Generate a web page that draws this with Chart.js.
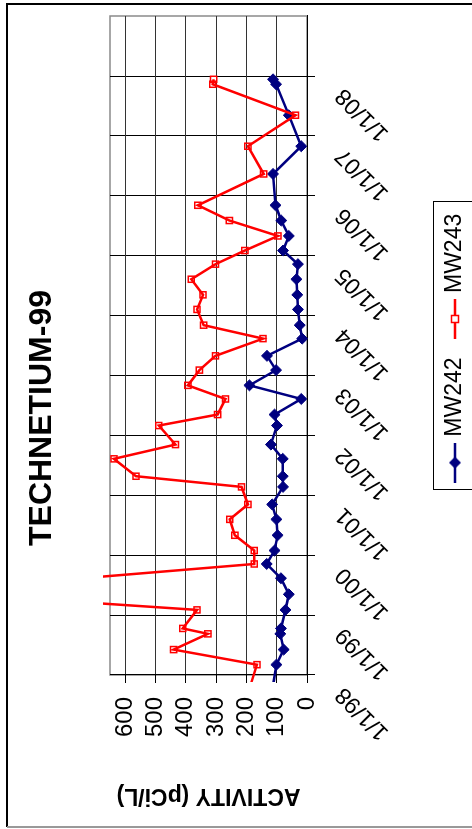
<!DOCTYPE html>
<html>
<head>
<meta charset="utf-8">
<title>TECHNETIUM-99</title>
<script src="https://cdn.jsdelivr.net/npm/chart.js@4/dist/chart.umd.min.js"></script>
<style>
  html, body { margin: 0; padding: 0; background: #fff; overflow: hidden; }
  body { width: 472px; height: 829px; position: relative; }
  /* landscape chart turned a quarter turn counter-clockwise */
  #turn {
    position: absolute; left: 0; top: 0;
    width: 829px; height: 472px;
    transform-origin: 0 0;
    transform: translateY(829px) rotate(-90deg);
  }
  canvas { display: block; }
</style>
</head>
<body>
<div id="turn"><canvas id="chart" width="829" height="472"></canvas></div>
<script>
// Sampling dates (the first one precedes the plotted range)
const sampleDates = [
  '1997-09-01',
  '1998-03-05', '1998-06-05', '1998-09-09', '1998-10-12',
  '1999-02-02', '1999-05-08', '1999-08-14', '1999-11-09',
  '2000-01-30', '2000-05-02', '2000-08-07', '2000-11-06',
  '2001-02-21', '2001-04-27', '2001-08-11', '2001-11-06',
  '2002-03-02', '2002-05-08', '2002-08-11', '2002-11-02',
  '2003-02-03', '2003-05-01', '2003-08-14', '2003-11-04',
  '2004-02-08', '2004-05-07', '2004-08-10', '2004-11-10',
  '2005-02-01', '2005-05-01', '2005-08-03', '2005-11-04',
  '2006-05-14', '2006-10-30',
  '2007-05-07', '2007-11-12', '2007-12-12'
];

// Tc-99 activity, pCi/L
const mw242 = [
  117,
  101, 77, 88, 86,
  71, 60, 86, 133,
  107, 97, 101, 115,
  79, 80, 80, 119,
  99, 107, 19, 190,
  102, 132, 16, 24,
  30, 32, 35, 30,
  79, 60, 85, 104,
  112, 19,
  60, 102, 112
];
const mw243 = [
  197,
  165, 440, 327, 410,
  363, 1130, 740, 174,
  174, 238, 255, 195,
  216, 564, 637, 434,
  489, 295, 269, 393,
  355, 302, 145, 341,
  363, 343, 382, 302,
  205, 96, 256, 360,
  143, 195,
  38, 311, 308
];

// Date axis ticks
const yearTicks = [
  '1998-01-01', '1999-01-01', '2000-01-01', '2001-01-01', '2002-01-01', '2003-01-01',
  '2004-01-01', '2005-01-01', '2006-01-01', '2007-01-01', '2008-01-01'
];
const yearLabels = ['1/1/98', '1/1/99', '1/1/00', '1/1/01', '1/1/02', '1/1/03',
                    '1/1/04', '1/1/05', '1/1/06', '1/1/07', '1/1/08'];
const dateMin = '1998-01-01';
const dateMax = '2009-01-01';

// Activity axis ticks
const activityMin = 0;
const activityMax = 650;
const activityStep = 100;

const FONT = '"Liberation Sans", Arial, Helvetica, sans-serif';
Chart.defaults.font.family = FONT;
Chart.defaults.color = '#000';

const NAVY = '#000080';
const RED = '#ff0000';

function series(values) {
  return sampleDates.map((d, i) => ({ x: Date.parse(d), y: values[i] }));
}

// Small line-and-marker samples used as legend symbols
function legendSymbol(color, marker) {
  const c = document.createElement('canvas');
  c.width = 40; c.height = 16;
  const g = c.getContext('2d');
  g.strokeStyle = color;
  g.lineWidth = 2.5;
  g.beginPath(); g.moveTo(0, 8); g.lineTo(40, 8); g.stroke();
  if (marker === 'diamond') {
    g.fillStyle = color;
    g.beginPath();
    g.moveTo(14, 8); g.lineTo(20, 2); g.lineTo(26, 8); g.lineTo(20, 14);
    g.closePath(); g.fill();
  } else {
    g.lineWidth = 1.5;
    g.fillStyle = '#fff';
    g.fillRect(16.5, 4.5, 7, 7);
    g.strokeRect(16.5, 4.5, 7, 7);
  }
  return c;
}

const framePlugin = {
  id: 'frame',
  beforeDraw(chart) {
    const { ctx, chartArea: a, height } = chart;
    ctx.save();
    // outer chart border
    ctx.lineWidth = 2;
    ctx.strokeStyle = '#000';
    ctx.beginPath();
    ctx.moveTo(2, 7); ctx.lineTo(825, 7); ctx.lineTo(825, height + 5);
    ctx.stroke();
    ctx.strokeStyle = '#999';
    ctx.beginPath();
    ctx.moveTo(2, 7); ctx.lineTo(2, height + 5);
    ctx.stroke();
    // plot area frame
    ctx.lineWidth = 1.5;
    ctx.strokeStyle = '#8a8a8a';
    ctx.strokeRect(a.left, a.top, a.right - a.left, a.bottom - a.top);
    ctx.restore();
  },
  afterDraw(chart) {
    const lg = chart.legend;
    if (!lg || !lg.legendHitBoxes || !lg.legendHitBoxes.length) return;
    const hb = lg.legendHitBoxes;
    const first = hb[0], last = hb[hb.length - 1];
    const cy = first.top + first.height / 2;
    const ctx = chart.ctx;
    ctx.save();
    ctx.lineWidth = 1;
    ctx.strokeStyle = '#000';
    const l = Math.round(first.left - 13) + 0.5;
    const r = Math.round(last.left + last.width + 12) + 0.5;
    const t = Math.round(cy - 22) + 0.5;
    ctx.strokeRect(l, t, r - l, 39);
    ctx.restore();
  }
};

new Chart(document.getElementById('chart'), {
  type: 'line',
  data: {
    datasets: [
      {
        label: 'MW242',
        data: series(mw242),
        order: 1,
        borderColor: NAVY,
        backgroundColor: NAVY,
        borderWidth: 2.5,
        pointStyle: 'rectRot',
        pointRadius: 5.5,
        pointBorderWidth: 1,
        pointBackgroundColor: NAVY,
        pointBorderColor: NAVY,
        tension: 0,
        clip: 7
      },
      {
        label: 'MW243',
        data: series(mw243),
        order: 0,
        borderColor: RED,
        backgroundColor: RED,
        borderWidth: 2.5,
        pointStyle: 'rect',
        pointRadius: 4.3,
        pointBorderWidth: 1.5,
        pointBackgroundColor: 'rgba(255,255,255,0)',
        pointBorderColor: RED,
        tension: 0,
        clip: 7
      }
    ]
  },
  options: {
    responsive: false,
    animation: false,
    devicePixelRatio: 1,
    layout: { padding: { left: 9, right: 16, top: 0, bottom: -4.5 } },
    plugins: {
      title: {
        display: true,
        text: 'TECHNETIUM-99',
        color: '#000',
        font: { size: 32, weight: 'bold' },
        padding: { top: 23, bottom: 48.6 }
      },
      legend: {
        position: 'bottom',
        fullSize: false,
        labels: {
          color: '#000',
          font: { size: 23 },
          usePointStyle: true,
          pointStyleWidth: 29,
          padding: 24,
          generateLabels(chart) {
            return chart.data.datasets.map((ds, i) => ({
              text: ds.label,
              datasetIndex: i,
              hidden: false,
              fontColor: '#000',
              fillStyle: ds.borderColor,
              strokeStyle: ds.borderColor,
              lineWidth: 0,
              pointStyle: legendSymbol(ds.borderColor, ds.pointStyle === 'rectRot' ? 'diamond' : 'square')
            }));
          }
        }
      },
      tooltip: { enabled: false }
    },
    scales: {
      x: {
        type: 'linear',
        min: Date.parse(dateMin),
        max: Date.parse(dateMax),
        afterBuildTicks(scale) {
          scale.ticks = yearTicks.map(d => ({ value: Date.parse(d) }));
        },
        afterFit(scale) { scale.height = 112.5; },
        ticks: {
          autoSkip: false,
          minRotation: 45,
          maxRotation: 45,
          labelOffset: -16,
          padding: 15,
          color: '#000',
          font: { size: 23 },
          callback: (value, index) => yearLabels[index]
        },
        grid: { color: '#000', lineWidth: 1, tickLength: 8, tickColor: '#000' },
        border: { color: '#000', width: 1 }
      },
      y: {
        min: activityMin,
        max: activityMax,
        afterFit(scale) { scale.width = 145; },
        ticks: {
          stepSize: activityStep,
          includeBounds: false,
          padding: 14,
          color: '#000',
          font: { size: 24 }
        },
        grid: { color: '#333', lineWidth: 1, tickLength: 8, tickColor: '#000' },
        border: { color: '#000', width: 1 },
        title: {
          display: true,
          text: 'ACTIVITY (pCi/L)',
          color: '#000',
          font: { size: 23, weight: 'bold' },
          padding: { top: 11, bottom: 0 }
        }
      }
    }
  },
  plugins: [framePlugin]
});
</script>
</body>
</html>
